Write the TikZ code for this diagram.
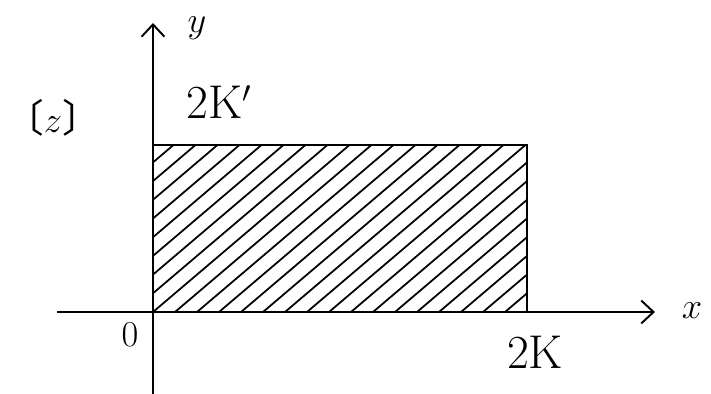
\documentclass[tikz,border=0pt]{standalone}
\usepackage{fontspec}
\newfontfamily\cjk{Noto Sans CJK JP}
\usetikzlibrary{arrows.meta}
\tikzset{
  axis/.style={line width=1.1pt, -{Straight Barb[length=7pt,width=13pt,line width=1.1pt]}},
  lbl/.style={font=\fontsize{22}{26}\selectfont, inner sep=0pt},
  biglbl/.style={font=\fontsize{27}{30}\selectfont, inner sep=0pt},
}

\begin{document}
\begin{tikzpicture}
\useasboundingbox (-3.06,-1.64) rectangle (11.16,6.24);
\coordinate (xl) at (-1.92,0);
\coordinate (xr) at (10.04,0);
\coordinate (yb) at (0,-1.64);
\coordinate (yt) at (0,5.78);
\coordinate (o) at (0,0);
\coordinate (c) at (7.48,3.34);
% hatched strip
\begin{scope}
\clip (o) rectangle (c);
\foreach \i in {-10,...,17}
  \draw[line width=1pt] (0.44*\i,0) -- ++(8,6.8);
\end{scope}
\draw[line width=1.1pt] (o) rectangle (c);
\draw[axis] (xl) -- (xr);
\draw[axis] (yb) -- (yt);
\node[lbl] (ylab) at (0.88,5.68) {$y$};
\node[lbl] (xlab) at (10.78,0.02) {$x$};
\node[lbl] (zero) at (-0.46,-0.46) {$0$};
\node[biglbl] (twoK) at (7.64,-0.8) {2K};
\node[biglbl] (twoKp) at (1.32,4.2) {2K$'$};
\node[lbl] (plane) at (-2.0,3.88) {{\cjk 〔}$z${\cjk 〕}};
\end{tikzpicture}
\end{document}
